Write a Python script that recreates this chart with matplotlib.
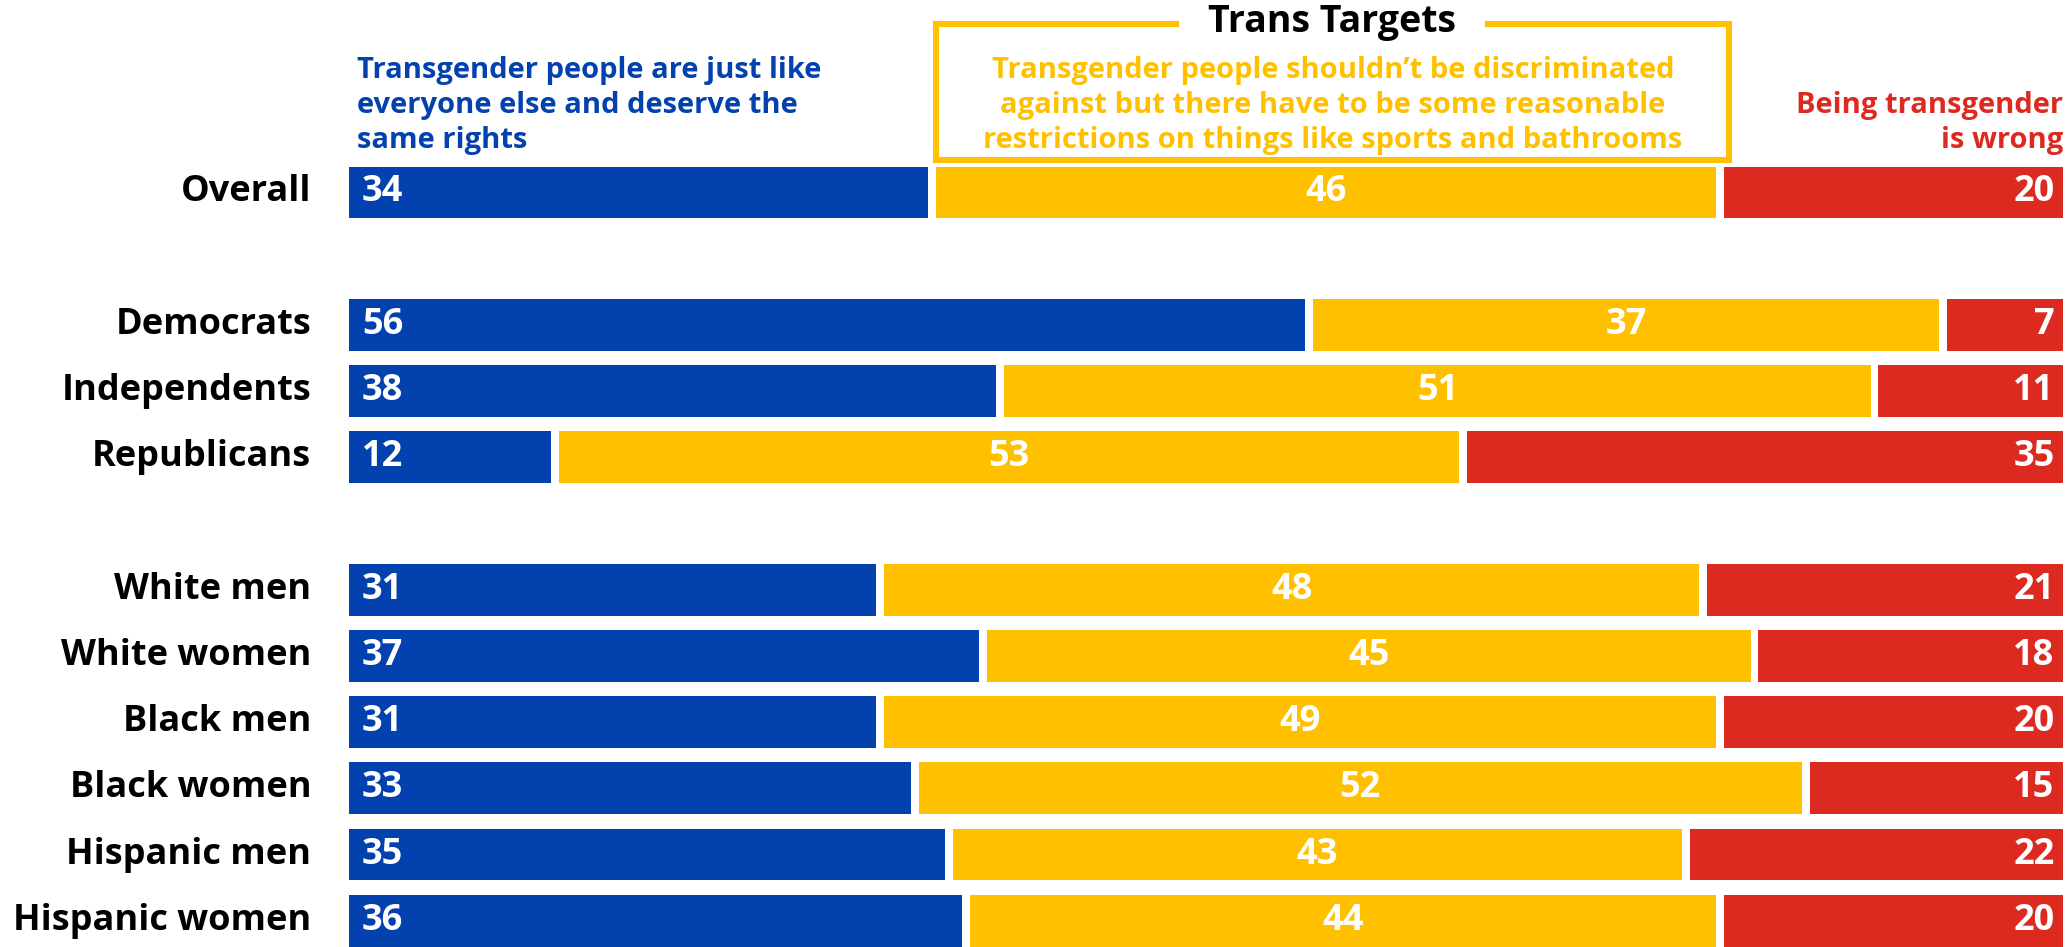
import matplotlib
matplotlib.use("Agg")
import matplotlib.pyplot as plt
from matplotlib.lines import Line2D

categories = ["Overall", "Democrats", "Independents", "Republicans",
              "White men", "White women", "Black men", "Black women",
              "Hispanic men", "Hispanic women"]
row_pos = [0, 2, 3, 4, 6, 7, 8, 9, 10, 11]
same_rights = [34, 56, 38, 12, 31, 37, 31, 33, 35, 36]
restrictions = [46, 37, 51, 53, 48, 45, 49, 52, 43, 44]
wrong = [20, 7, 11, 35, 21, 18, 20, 15, 22, 20]

series = [same_rights, restrictions, wrong]
colors = ["#0341AE", "#FFC000", "#DC2A20"]
header_texts = [
    ["Transgender people are just like", "everyone else and deserve the", "same rights"],
    ["Transgender people shouldn\u2019t be discriminated",
     "against but there have to be some reasonable",
     "restrictions on things like sports and bathrooms"],
    ["Being transgender", "is wrong"],
]
title = "Trans Targets"

FONT = "Open Sans"
W, H = 2068, 947
fig = plt.figure(figsize=(W / 100, H / 100), dpi=100)
x0, x1 = 349, 2063
ax = fig.add_axes([x0 / W, 0, (x1 - x0) / W, 1])
pitch = 66.2
top_c = 192.5
ax.set_xlim(0, 100)
ax.set_ylim(11 + (H - (top_c + 11 * pitch)) / pitch, -top_c / pitch)
ax.axis("off")

gap = 0.46
bh = 0.785
VFS = 26
for i, y in enumerate(row_pos):
    cum = 0
    vals = [s[i] for s in series]
    for k, v in enumerate(vals):
        left = cum + (gap / 2 if k > 0 else 0)
        right = cum + v - (gap / 2 if k < len(vals) - 1 else 0)
        ax.barh(y, right - left, left=left, height=bh, color=colors[k], linewidth=0)
        if k == 0:
            ax.text(left + 0.75, y, str(v), ha="left", va="center", color="white",
                    fontsize=VFS, fontweight="bold", family=FONT)
        elif k == 1:
            ax.text((left + right) / 2, y, str(v), ha="center", va="center", color="white",
                    fontsize=VFS, fontweight="bold", family=FONT)
        else:
            ax.text(right - 0.5, y, str(v), ha="right", va="center", color="white",
                    fontsize=VFS, fontweight="bold", family=FONT)
        cum += v
    ax.text(-2.2, y, categories[i], ha="right", va="center", color="black",
            fontsize=VFS, fontweight="bold", family=FONT)

# headers in figure pixel coords (from top)
def fx(px):
    return px / W

def fy(py):
    return 1 - py / H

HFS = 21
baselines3 = [78, 113, 148]
for j, line in enumerate(header_texts[0]):
    fig.text(fx(357), fy(baselines3[j]), line, ha="left", va="baseline",
             color=colors[0], fontsize=HFS, fontweight="bold", family=FONT)
for j, line in enumerate(header_texts[1]):
    fig.text(fx(1333), fy(baselines3[j]), line, ha="center", va="baseline",
             color=colors[1], fontsize=HFS, fontweight="bold", family=FONT)
for j, line in enumerate(header_texts[2]):
    fig.text(fx(2063), fy(baselines3[j + 1]), line, ha="right", va="baseline",
             color=colors[2], fontsize=HFS, fontweight="bold", family=FONT)

# box around middle header, open at the top for the title
bl, br, bt, bb = 936, 1729, 24, 160
g0, g1 = 1179, 1485
px_x = [g0, bl, bl, br, br, g1]
px_y = [bt, bt, bb, bb, bt, bt]
fig.add_artist(Line2D([fx(v) for v in px_x], [fy(v) for v in px_y],
                      transform=fig.transFigure, color=colors[1], linewidth=4.3,
                      solid_joinstyle="miter", solid_capstyle="butt"))
fig.text(fx(1332), fy(32), title, ha="center", va="baseline", color="black",
         fontsize=27, fontweight="bold", family=FONT)

fig.savefig("out.png", dpi=100, facecolor="white")
